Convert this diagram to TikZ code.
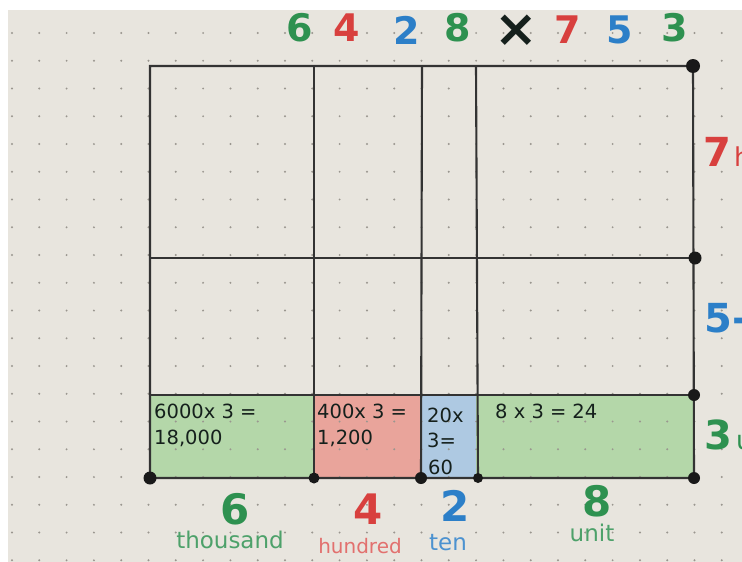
\documentclass[tikz,border=0pt]{standalone}
\usepackage{fontspec}
\setmainfont{DejaVu Sans}
\definecolor{paper}{HTML}{E8E5DE}
\definecolor{dotc}{HTML}{9A968F}
\definecolor{pgreen}{HTML}{2E9150}
\definecolor{pred}{HTML}{D8403E}
\definecolor{pblue}{HTML}{2C7FC8}
\definecolor{fgreen}{HTML}{B4D7A9}
\definecolor{fred}{HTML}{E9A49B}
\definecolor{fblue}{HTML}{AEC9E2}
\definecolor{ink}{HTML}{15201C}
\definecolor{gline}{HTML}{333333}
\tikzset{
  bigdigit/.style={inner sep=0pt, font=\fontsize{38}{38}\selectfont\bfseries},
  lowdigit/.style={inner sep=0pt, font=\fontsize{42}{42}\selectfont\bfseries},
  sidedigit/.style={inner sep=0pt, anchor=west, font=\fontsize{40}{40}\selectfont\bfseries},
  celltext/.style={inner sep=0pt, anchor=base west, text=ink, font=\fontsize{19.5}{19.5}\selectfont},
  word/.style={inner sep=0pt, font=\fontsize{23}{23}\selectfont},
  gridline/.style={draw=gline, line width=2.1pt},
  blob/.style={fill=black!90}
}
\begin{document}
\begin{tikzpicture}[x=1pt,y=-1pt]
\useasboundingbox (0,0) rectangle (742,562);
\fill[white] (0,0) rectangle (742,562);
\fill[paper] (8,10) rectangle (742,562);
% coordinates of the grid
\coordinate (tl) at (150,66);  \coordinate (t1) at (314,66);  \coordinate (t2) at (422,66);  \coordinate (t3) at (476,66);  \coordinate (tr) at (693,66);
\coordinate (ml) at (150,258); \coordinate (mr) at (695,258);
\coordinate (bl) at (150,395); \coordinate (b1) at (314,395); \coordinate (b2) at (422,395); \coordinate (b3) at (476,395); \coordinate (br) at (694,395);
\coordinate (zl) at (150,478); \coordinate (z1) at (314,478); \coordinate (z2) at (421,478); \coordinate (z3) at (478,478); \coordinate (zr) at (694,478);
% coloured cells
\fill[fgreen] (bl) rectangle (z1);
\fill[fred] (b1) rectangle (z2);
\fill[fblue] (b2) rectangle (z3);
\fill[fgreen] (b3) rectangle (zr);
% dot paper
\begin{scope}
\clip (8,10) rectangle (742,562);
\foreach \i in {0,...,27} {
  \foreach \j in {0,...,19} {
    \fill[dotc] ({12+27.3*\i},{33+27.75*\j}) circle (1.1);
  }
}
\end{scope}
% grid lines
\draw[gridline] (tl) -- (tr) -- (zr) -- (zl) -- cycle;
\draw[gridline] (ml) -- (mr);
\draw[gridline] (bl) -- (br);
\draw[gridline] (t1) -- (z1);
\draw[gridline] (t2) -- (z2);
\draw[gridline] (t3) -- (z3);
% blobs
\fill[blob] (tr) circle (7);
\fill[blob] (mr) circle (6.5);
\fill[blob] (br) circle (6);
\fill[blob] (zr) circle (6);
\fill[blob] (zl) circle (6.5);
\fill[blob] (z1) circle (5.5);
\fill[blob] (z2) circle (6);
\fill[blob] (z3) circle (5);
% top multiplication
\node[bigdigit, text=pgreen] (d6) at (300,28) {6};
\node[bigdigit, text=pred]   (d4) at (347,28) {4};
\node[bigdigit, text=pblue]  (d2) at (407,30) {2};
\node[bigdigit, text=pgreen] (d8) at (458,28) {8};
\node[bigdigit, text=ink, font=\fontsize{52}{52}\selectfont\bfseries] (dx) at (516,31) {×};
\node[bigdigit, text=pred]   (d7) at (568,30) {7};
\node[bigdigit, text=pblue]  (d5) at (620,30) {5};
\node[bigdigit, text=pgreen] (d3) at (675,28) {3};
% right side labels (cut by the page edge, as in the photo)
\begin{scope}
\clip (0,0) rectangle (742,562);
\node[sidedigit, text=pred]   (r7) at (703,152) {7\kern3pt\fontsize{26}{26}\selectfont\mdseries h};
\node[sidedigit, text=pblue]  (r5) at (704,318) {5-};
\node[sidedigit, text=pgreen] (r3) at (704,435) {3\kern4pt\fontsize{26}{26}\selectfont\mdseries u};
\end{scope}
% cell texts
\node[celltext] (c1a) at (154,418) {6000x 3 =};
\node[celltext] (c1b) at (154,444) {18,000};
\node[celltext] (c2a) at (317,418) {400x 3 =};
\node[celltext] (c2b) at (317,444) {1,200};
\node[celltext] (c3a) at (427,422) {20x};
\node[celltext] (c3b) at (427,447) {3=};
\node[celltext] (c3c) at (428,474) {60};
\node[celltext] (c4a) at (495,418) {8 x 3 =\kern6pt 24};
% bottom labels
\node[lowdigit, text=pgreen] (n6) at (235,509) {6};
\node[word, text=pgreen!85!white] (w6) at (230,540) {thousand};
\node[lowdigit, text=pred] (n4) at (368,509) {4};
\node[word, text=pred!75!white, font=\fontsize{20}{20}\selectfont] (w4) at (360,546) {hundred};
\node[lowdigit, text=pblue] (n2) at (455,506) {2};
\node[word, text=pblue!85!white] (w2) at (448,543) {ten};
\node[lowdigit, text=pgreen] (n8) at (597,501) {8};
\node[word, text=pgreen!85!white] (w8) at (592,533) {unit};
\end{tikzpicture}
\end{document}
